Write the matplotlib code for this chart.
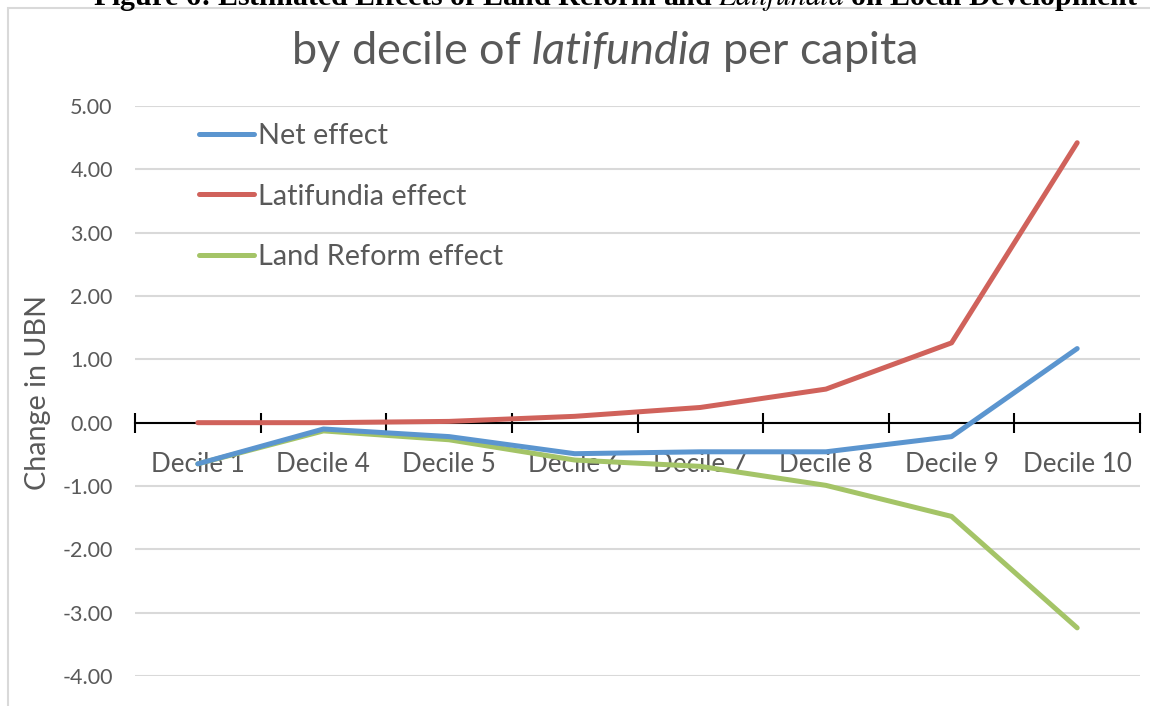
import matplotlib
matplotlib.use("Agg")
import matplotlib.pyplot as plt
from matplotlib.patches import Rectangle

# data
deciles = ["Decile 1", "Decile 4", "Decile 5", "Decile 6", "Decile 7", "Decile 8", "Decile 9", "Decile 10"]
net_effect = [-0.65, -0.10, -0.22, -0.49, -0.46, -0.46, -0.22, 1.17]
latifundia_effect = [0.00, 0.00, 0.02, 0.10, 0.24, 0.53, 1.26, 4.42]
land_reform_effect = [-0.65, -0.13, -0.27, -0.59, -0.69, -0.99, -1.48, -3.24]
y_ticks = [5, 4, 3, 2, 1, 0, -1, -2, -3, -4]

plt.rcParams["font.family"] = ["Lato", "DejaVu Sans"]
plt.rcParams["mathtext.fontset"] = "custom"
plt.rcParams["mathtext.rm"] = "Lato"
plt.rcParams["mathtext.it"] = "Lato:italic"

grey = "#595959"
fig = plt.figure(figsize=(11.5, 7.06), dpi=100)

# frame of the chart area (cut off at right and bottom)
fig.patches.append(Rectangle((8 / 1150, -0.1), 1.2, 1 - 8 / 706 + 0.1, transform=fig.transFigure,
                             fill=False, edgecolor="#d9d9d9", linewidth=1.5))

# caption of the figure, cut off at the top as in the source
fig.text(0.535, 1 - 5 / 706, r"Figure 6: Estimated Effects of Land Reform and $\it{Latifundia}$ on Local Development",
         ha="center", va="baseline", fontsize=21.5, fontweight="bold", family="Liberation Serif",
         math_fontfamily="stix")

fig.text(0.525, 1 - 51 / 706, r"by decile of $\it{latifundia}$ per capita", ha="center", va="center",
         fontsize=32.5, color=grey)

ax = fig.add_axes([135 / 1150, 30 / 706, 1005 / 1150, 570 / 706])
x = list(range(len(deciles)))
ax.plot(x, net_effect, color="#5b95cf", linewidth=3.6, solid_capstyle="round", label="Net effect", zorder=4)
ax.plot(x, latifundia_effect, color="#d0625b", linewidth=3.6, solid_capstyle="round", label="Latifundia effect", zorder=3)
ax.plot(x, land_reform_effect, color="#a4c467", linewidth=3.6, solid_capstyle="round", label="Land Reform effect", zorder=2)

ax.set_xlim(-0.5, len(deciles) - 0.5)
ax.set_ylim(-4, 5)
ax.set_yticks(y_ticks)
ax.set_yticklabels([f"{v:.2f}" for v in y_ticks])
ax.grid(axis="y", color="#d9d9d9", linewidth=1.5)
ax.set_axisbelow(True)
for s in ["top", "right", "left"]:
    ax.spines[s].set_visible(False)
ax.spines["bottom"].set_position(("data", 0))
ax.spines["bottom"].set_linewidth(1.5)
ax.spines["bottom"].set_zorder(1)

ax.set_xticks([i - 0.5 for i in range(len(deciles) + 1)])
ax.set_xticklabels([])
ax.set_xticks(x, minor=True)
ax.set_xticklabels(deciles, minor=True)
ax.tick_params(axis="x", which="major", direction="inout", length=14, width=1.5, color="black")
ax.tick_params(axis="x", which="minor", length=0, pad=21, labelsize=18.7, labelcolor=grey)
ax.tick_params(axis="y", length=0, pad=16, labelsize=15.5, labelcolor=grey)

fig.text(38 / 1150, 1 - 392 / 706, "Change in UBN", rotation=90, ha="center", va="center",
         fontsize=20.7, color=grey)

leg = ax.legend(loc="upper left", bbox_to_anchor=(0.038, 1.016), frameon=False, fontsize=20.8,
                handlelength=1.9, handletextpad=0.15, labelspacing=1.2, labelcolor=grey)

fig.savefig("out.png", dpi=100)
